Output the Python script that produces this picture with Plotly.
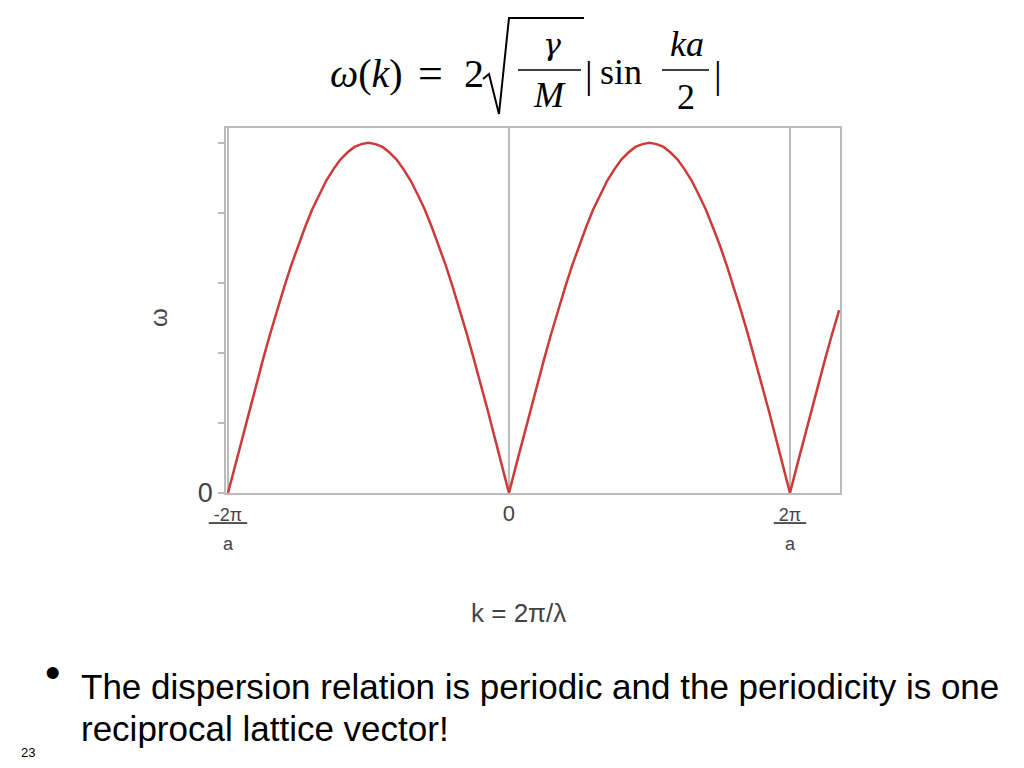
"""Dispersion relation of the 1D monatomic chain, slide 23."""
import plotly.graph_objects as go

# k in units of 2*pi/a, omega in units of sqrt(gamma/M)
k_units = [-1.0, -0.975, -0.95, -0.925, -0.9, -0.875, -0.85, -0.825, -0.8, -0.775,
           -0.75, -0.725, -0.7, -0.675, -0.65, -0.625, -0.6, -0.575, -0.55, -0.525,
           -0.5, -0.475, -0.45, -0.425, -0.4, -0.375, -0.35, -0.325, -0.3, -0.275,
           -0.25, -0.225, -0.2, -0.175, -0.15, -0.125, -0.1, -0.075, -0.05, -0.025,
           0.0, 0.025, 0.05, 0.075, 0.1, 0.125, 0.15, 0.175, 0.2, 0.225,
           0.25, 0.275, 0.3, 0.325, 0.35, 0.375, 0.4, 0.425, 0.45, 0.475,
           0.5, 0.525, 0.55, 0.575, 0.6, 0.625, 0.65, 0.675, 0.7, 0.725,
           0.75, 0.775, 0.8, 0.825, 0.85, 0.875, 0.9, 0.925, 0.95, 0.975,
           1.0, 1.025, 1.05, 1.075, 1.1, 1.125, 1.15, 1.175]
omega = [0.0, 0.39, 0.78, 1.17, 1.55, 1.91, 2.27, 2.61, 2.94, 3.25,
         3.54, 3.80, 4.05, 4.26, 4.46, 4.62, 4.76, 4.86, 4.94, 4.98,
         5.0, 4.98, 4.94, 4.86, 4.76, 4.62, 4.46, 4.26, 4.05, 3.80,
         3.54, 3.25, 2.94, 2.61, 2.27, 1.91, 1.55, 1.17, 0.78, 0.39,
         0.0, 0.39, 0.78, 1.17, 1.55, 1.91, 2.27, 2.61, 2.94, 3.25,
         3.54, 3.80, 4.05, 4.26, 4.46, 4.62, 4.76, 4.86, 4.94, 4.98,
         5.0, 4.98, 4.94, 4.86, 4.76, 4.62, 4.46, 4.26, 4.05, 3.80,
         3.54, 3.25, 2.94, 2.61, 2.27, 1.91, 1.55, 1.17, 0.78, 0.39,
         0.0, 0.39, 0.78, 1.17, 1.55, 1.91, 2.27, 2.61]

x_tickvals = [-1, 0, 1]
x_ticktext = ["<span style='font-size:18px'><u> -2π </u></span><br><span style='font-size:18px'>a</span>",
              "0",
              "<span style='font-size:18px'><u> 2π </u></span><br><span style='font-size:18px'>a</span>"]
y_tickvals = [0, 1, 2, 3, 4, 5]
y_ticktext = ["0", "", "", "", "", ""]

bullet_lines = ["The dispersion relation is periodic and the periodicity is one",
                "reciprocal lattice vector!"]

# plot area in screen pixels: x 226..840, y 128..493 (page body has an 8px margin)
L, R, T, B = 226, 840, 128, 493
OFF = 8


def px(x):
    return (x - L) / (R - L)


def py(y):
    return (B - y) / (B - T)


GRAY = "#bbbbbb"
LABEL = "#444444"

fig = go.Figure()
fig.add_trace(go.Scatter(x=k_units, y=omega, mode="lines",
                         line=dict(color="#cc3a3a", width=2.5),
                         hoverinfo="skip", showlegend=False))

fig.update_xaxes(range=[-1.007, 1.178], tickvals=x_tickvals, ticktext=x_ticktext,
                 showgrid=True, gridcolor=GRAY, gridwidth=1.5, zeroline=False,
                 showline=True, linecolor=GRAY, linewidth=1.5, mirror=True,
                 ticks="", tickfont=dict(family="Liberation Sans", size=22, color=LABEL))
fig.update_yaxes(range=[0, 5.21], tickvals=y_tickvals, ticktext=y_ticktext,
                 showgrid=False, zeroline=False,
                 showline=True, linecolor=GRAY, linewidth=1.5, mirror=True,
                 ticks="outside", ticklen=6, tickcolor=GRAY, tickwidth=1.5,
                 tickfont=dict(family="Liberation Sans", size=27, color=LABEL))

ann = []


def text(x, y, s, size, family="Liberation Sans", color="black", angle=0, xanchor="center"):
    ann.append(dict(x=px(x), y=py(y), xref="paper", yref="paper", text=s,
                    showarrow=False, xanchor=xanchor, yanchor="middle",
                    textangle=angle, font=dict(family=family, size=size, color=color)))


serif = "Liberation Serif"
# formula: omega(k) = 2 sqrt(gamma/M) |sin(ka/2)|
text(366, 74, "<i>ω</i>(<i>k</i>)", 40, serif)
text(430, 74, "=", 44, serif)
text(474, 74, "2", 40, serif)
text(552, 45, "<i>γ</i>", 30, "DejaVu Serif")
text(549, 95, "<i>M</i>", 36, serif)
text(589, 75, "|", 38, serif)
text(621, 72, "sin", 36, serif)
text(687, 44, "<i>ka</i>", 36, serif)
text(686, 97, "2", 36, serif)
text(718, 75, "|", 38, serif)

# axis titles
text(158, 318, "ω", 24, color=LABEL, angle=-90)
text(518, 613, "k = 2π/λ", 26, color=LABEL)

# slide text
text(52, 672, "•", 44)
for i, line in enumerate(bullet_lines):
    text(79, 686 + 42 * i, line, 35, xanchor="left")
text(28, 752, "23", 13)

shapes = [
    dict(type="line", xref="paper", yref="paper", x0=px(518), x1=px(581), y0=py(70), y1=py(70),
         line=dict(color="black", width=1.5)),
    dict(type="line", xref="paper", yref="paper", x0=px(662), x1=px(709), y0=py(70), y1=py(70),
         line=dict(color="black", width=1.5)),
    dict(type="path", xref="paper", yref="paper",
         path="M {:.4f},{:.4f} L {:.4f},{:.4f} L {:.4f},{:.4f} L {:.4f},{:.4f} L {:.4f},{:.4f}".format(
             px(483), py(79), px(489), py(74), px(499), py(114), px(509), py(18), px(584), py(18)),
         line=dict(color="black", width=2)),
]

fig.update_layout(width=1024 - OFF, height=768 - OFF,
                  margin=dict(l=L - OFF, r=1024 - R, t=T - OFF, b=768 - B),
                  paper_bgcolor="white", plot_bgcolor="white",
                  annotations=ann, shapes=shapes)

fig.write_html("out.html")
